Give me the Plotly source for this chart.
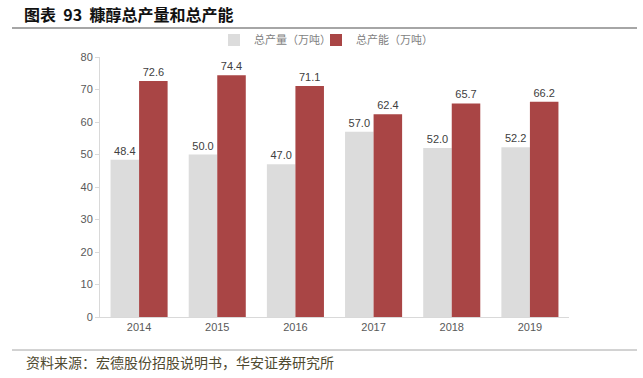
import plotly.graph_objects as go

years = ["2014", "2015", "2016", "2017", "2018", "2019"]
output = [48.4, 50.0, 47.0, 57.0, 52.0, 52.2]
capacity = [72.6, 74.4, 71.1, 62.4, 65.7, 66.2]
y_ticks = [0, 10, 20, 30, 40, 50, 60, 70, 80]

W, H = 643, 378
L, R, T, B = 100, 569, 57, 317
def px(x): return (x - L) / (R - L)
def py(y): return (B - y) / (B - T)

fig = go.Figure()
fig.add_trace(go.Bar(
    x=years, y=output, name="总产量（万吨）", legend="legend",
    marker=dict(color="#DCDCDC", line=dict(width=0)),
    text=[f"{v:.1f}" for v in output], textposition="outside",
    textfont=dict(size=11, color="#404040", family="Liberation Sans, Arial"),
    cliponaxis=False,
))
fig.add_trace(go.Bar(
    x=years, y=capacity, name="总产能（万吨）", legend="legend2",
    marker=dict(color="#A94545", line=dict(width=0)),
    text=[f"{v:.1f}" for v in capacity], textposition="outside",
    textfont=dict(size=11, color="#404040", family="Liberation Sans, Arial"),
    cliponaxis=False,
))

legend_common = dict(
    orientation="h", yanchor="middle", y=py(40), xanchor="left",
    font=dict(size=11, color="#7F7F7F", family="Noto Sans CJK SC"),
    itemwidth=30, bgcolor="rgba(0,0,0,0)",
)

fig.update_layout(
    width=W, height=H,
    margin=dict(l=L, r=W - R, t=T, b=H - B, pad=0, autoexpand=False),
    paper_bgcolor="white", plot_bgcolor="white",
    barmode="group", bargap=0.27, bargroupgap=0,
    showlegend=True,
    legend=dict(x=px(214), **legend_common),
    legend2=dict(x=px(316), **legend_common),
    font=dict(family="Liberation Sans, Arial", size=11, color="#595959"),
    xaxis=dict(
        showline=True, linecolor="#D9D9D9", linewidth=1,
        ticks="", tickfont=dict(size=11, color="#595959"),
        showgrid=False, zeroline=False,
    ),
    yaxis=dict(
        range=[0, 80], tickvals=y_ticks, showline=True, linecolor="#D9D9D9",
        linewidth=1, ticks="outside", ticklen=4, tickcolor="#D9D9D9",
        tickfont=dict(size=11, color="#595959"), showgrid=False, zeroline=False,
    ),
    shapes=[
        dict(type="line", xref="paper", yref="paper", x0=px(12), x1=px(637),
             y0=py(28), y1=py(28), line=dict(color="#A6A6A6", width=2)),
        dict(type="line", xref="paper", yref="paper", x0=px(12), x1=px(637),
             y0=py(350), y1=py(350), line=dict(color="#A6A6A6", width=1)),
    ],
    annotations=[
        dict(text="<b>图表  93  糠醇总产量和总产能</b>", xref="paper", yref="paper",
             x=px(22), y=py(14), xanchor="left", yanchor="middle", showarrow=False,
             font=dict(size=16, color="#111111", family="Noto Sans CJK SC")),
        dict(text="资料来源：宏德股份招股说明书，华安证券研究所", xref="paper", yref="paper",
             x=px(24), y=py(362), xanchor="left", yanchor="middle", showarrow=False,
             font=dict(size=14, color="#4F4A30", family="Noto Sans CJK SC")),
    ],
)

fig.write_html("out.html", config={"displayModeBar": False},
               post_script="document.body.style.margin='0px';")
